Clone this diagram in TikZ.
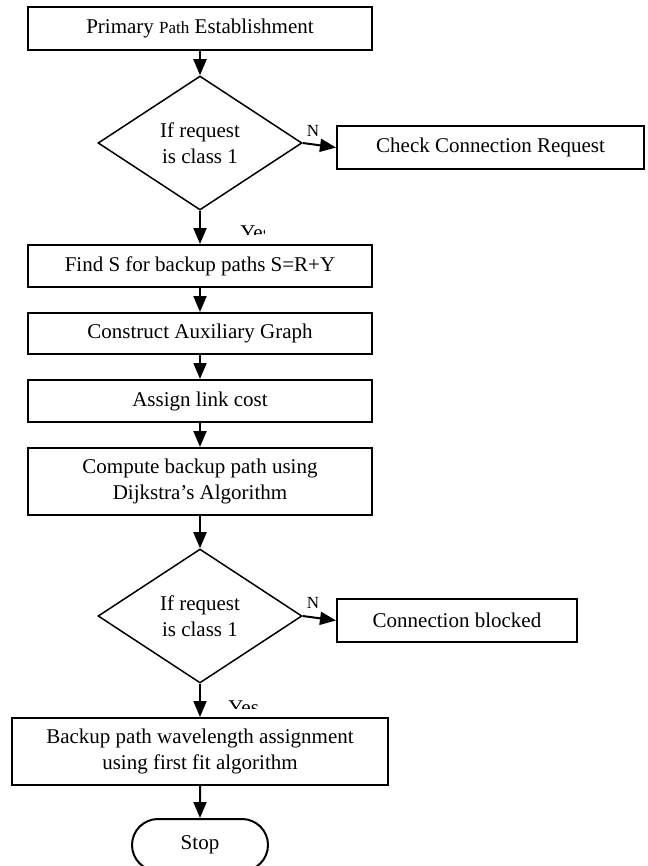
\documentclass[tikz,border=0pt]{standalone}
\usepackage{fontspec}
\setmainfont{Liberation Serif}
\usepackage{tikz}
\usetikzlibrary{shapes.geometric,shapes.misc,arrows.meta}

\begin{document}
\begin{tikzpicture}[x=0.5pt,y=-0.5pt,
	font=\fontsize{10.5}{13}\selectfont,
	stepbox/.style={draw,line width=1pt,fill=white,minimum width=172pt,minimum height=21pt,inner sep=0pt,align=center},
	choice/.style={draw,line width=0.75pt,diamond,aspect=1.5,inner sep=0pt,minimum width=102pt,minimum height=67pt,align=center},
	flow/.style={line width=1pt,-{Triangle[width=6.5pt,length=8pt]}},
	tag/.style={inner sep=0pt}]
			\useasboundingbox (0,0) rectangle (647,866);
			\coordinate (c1) at (200,28.5);
			\coordinate (c2) at (200,143);
			\coordinate (c3) at (490.5,147.5);
			\coordinate (c4) at (200,266);
			\coordinate (c5) at (200,333.5);
			\coordinate (c6) at (200,401);
			\coordinate (c7) at (200,481.5);
			\coordinate (c8) at (200,616);
			\coordinate (c9) at (457,620.5);
			\coordinate (c10) at (200,751.5);
			\coordinate (c11) at (200,845);
			
			\node (prim) at (c1) [stepbox,minimum height=21.5pt] {Primary {\fontsize{8.5}{10}\selectfont Path} Establishment};
			\node (ask1) at (c2) [choice] {If request\\is class 1};
			\node (check) at (c3) [stepbox,minimum width=153.5pt,minimum height=21.5pt] {Check Connection Request};
			\node (finds) at (c4) [stepbox] {Find S for backup paths S=R+Y};
			\node (aux) at (c5) [stepbox,minimum height=20.5pt] {Construct Auxiliary Graph};
			\node (cost) at (c6) [stepbox] {Assign link cost};
			\node (dijk) at (c7) [stepbox,minimum height=33.5pt] {Compute backup path using\\Dijkstra’s Algorithm};
			\node (ask2) at (c8) [choice] {If request\\is class 1};
			\node (block) at (c9) [stepbox,minimum width=120pt,minimum height=21.5pt] {Connection blocked};
			\node (wave) at (c10) [stepbox,minimum width=188pt,minimum height=33.5pt] {Backup path wavelength assignment\\using first fit algorithm};
			\node (stop) at (c11) [draw,line width=1pt,rounded rectangle,minimum width=68pt,minimum height=26pt,inner sep=0pt] {Stop};
			
			\draw[flow] (prim) -- (ask1);
			\draw[flow] (ask1.east) -- (check.west);
			\draw[flow] (ask1) -- (finds);
			\draw[flow] (finds) -- (aux);
			\draw[flow] (aux) -- (cost);
			\draw[flow] (cost) -- (dijk);
			\draw[flow] (dijk) -- (ask2);
			\draw[flow] (ask2.east) -- (block.west);
			\draw[flow] (ask2) -- (wave);
			\draw[flow] (wave) -- (stop);
			
			\node (no1) at (313,131) [tag,font=\fontsize{8.5}{10}\selectfont] {N};
			\node (no2) at (313,603) [tag,font=\fontsize{8.5}{10}\selectfont] {N};
			\begin{scope}
			\clip (230,215) rectangle (264,234.5);
			\node (yes1) at (240,240) [tag,anchor=base west] {Yes};
			\end{scope}
			\begin{scope}
			\clip (220,690) rectangle (270,708);
			\node (yes2) at (228,714) [tag,anchor=base west] {Yes};
			\end{scope}
		\end{tikzpicture}
\end{document}
